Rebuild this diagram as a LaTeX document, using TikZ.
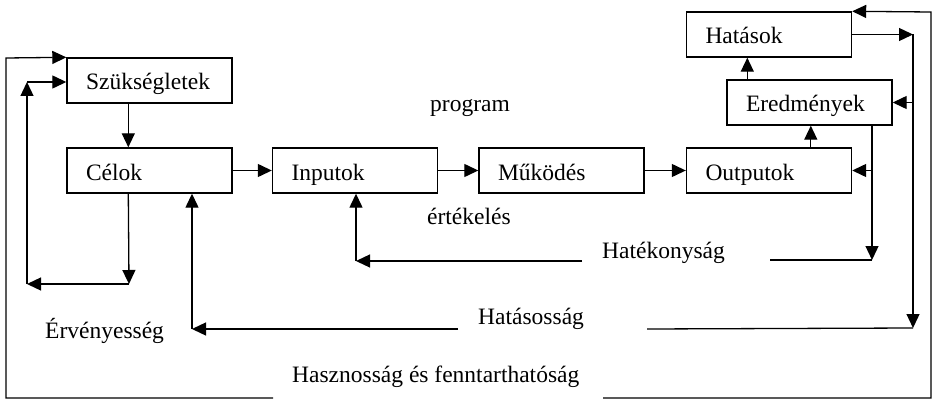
\documentclass[tikz,border=0pt]{standalone}
\usepackage{fontspec}
\setmainfont{Liberation Serif}
\usetikzlibrary{arrows.meta}

\begin{document}
\begin{tikzpicture}[x=1pt,y=-1pt,
  every node/.style={font=\fontsize{23.5}{28}\selectfont},
  stepbox/.style={draw, line width=1.4pt, minimum width=165pt, minimum height=45pt,
    inner xsep=19pt, text width=127pt, align=left, text height=24pt, text depth=5pt},
  word/.style={anchor=base west, inner sep=0pt},
  arr/.style={line width=1.3pt, -{Triangle[length=14pt,width=13pt]}},
  ln/.style={line width=1.3pt}]
\useasboundingbox (0,0) rectangle (933,401);

% process boxes
\node[stepbox] (szuk)  at (149.5,80.5)  {Szükségletek};
\node[stepbox] (celok) at (149.5,170.5) {Célok};
\node[stepbox] (inp)   at (355,170.5)   {Inputok};
\node[stepbox] (muk)   at (561.5,170.5) {Működés};
\node[stepbox] (outp)  at (769,170.5)   {Outputok};
\node[stepbox] (ered)  at (809.5,102.5) {Eredmények};
\node[stepbox] (hat)   at (769,34.5)    {Hatások};

% free labels
\node[word] (lprog) at (430,111) {program};
\node[word] (lert)  at (427,224) {értékelés};
\node[word] (lerv)  at (45,338)  {Érvényesség};
\node[word] (lhtk)  at (602,258) {Hatékonyság};
\node[word] (lhts)  at (478,324) {Hatásosság};
\node[word] (lhsz)  at (292,382) {Hasznosság és fenntarthatóság};

% main chain
\draw[arr] ([xshift=62pt]szuk.south west) -- ([xshift=62pt]celok.north west);
\draw[arr] (celok.east) -- (inp.west);
\draw[arr] (inp.east) -- (muk.west);
\draw[arr] (muk.east) -- (outp.west);
\draw[arr] ([xshift=125pt]outp.north west) -- ([xshift=125pt]outp.north west |- ered.south);
\draw[arr] ([xshift=21pt]ered.north west) -- ([xshift=21pt]ered.north west |- hat.south);

% relevance loop (Célok -> Szükségletek)
\coordinate (v1) at (129,284);
\coordinate (v2) at (27,284);
\coordinate (v3) at (27,82);
\draw[arr] ([xshift=62pt]celok.south west) -- (v1);
\draw[arr] (v1) -- (v2);
\draw[arr] (v2) -- (v3);
\draw[arr] (v3) -- (v3 -| szuk.west);

% efficiency loop (Outputok/Eredmények -> Inputok)
\coordinate (e1) at (872,125);
\coordinate (e2) at (872,260);
\coordinate (e3) at (770,260);
\coordinate (e4) at (582,261);
\coordinate (e5) at (356,261);
\draw[arr] (e1) -- (e2);
\draw[arr] (e1 |- outp.east) -- (outp.east);
\draw[ln] (e2) -- (e3);
\draw[arr] (e4) -- (e5);
\draw[arr] (e5) -- (e5 |- inp.south);

% effectiveness loop (Hatások/Eredmények -> Célok)
\coordinate (h1) at (913,34.5);
\coordinate (h2) at (913,328);
\coordinate (h3) at (647,329);
\coordinate (h4) at (458,329);
\coordinate (h5) at (192,329);
\draw[arr] (hat.east) -- (h1);
\draw[arr] (h1) -- (h2);
\draw[arr] (h1 |- ered.east) -- (ered.east);
\draw[ln] (h2) -- (h3);
\draw[arr] (h4) -- (h5);
\draw[arr] (h5) -- (h5 |- celok.south);

% utility and sustainability loop (outer frame)
\coordinate (u1) at (273,398);
\coordinate (u2) at (6,398);
\coordinate (u3) at (6,58);
\coordinate (u4) at (603,398);
\coordinate (u5) at (931,398);
\coordinate (u6) at (931,12);
\draw[arr] (u1) -- (u2) -- (u3) -- (szuk.north west);
\draw[arr] (u4) -- (u5) -- (u6) -- (hat.north east);
\end{tikzpicture}
\end{document}
